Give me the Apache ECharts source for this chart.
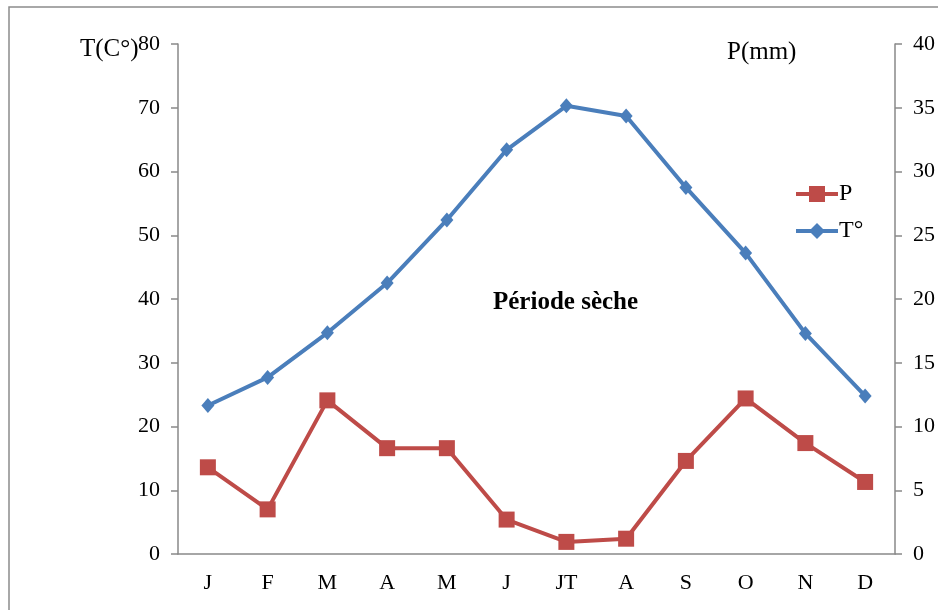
<!DOCTYPE html>
<html>
<head>
<meta charset="utf-8">
<script src="https://cdn.jsdelivr.net/npm/echarts@6/dist/echarts.min.js"></script>
<style>
  html, body { margin: 0; padding: 0; background: #fff; }
  #chart { width: 938px; height: 610px; }
</style>
</head>
<body>
<div id="chart"></div>
<script>
// months (JT = juillet)
const months = ['J', 'F', 'M', 'A', 'M', 'J', 'JT', 'A', 'S', 'O', 'N', 'D'];
// temperature, left axis
const tempValues = [23.3, 27.7, 34.7, 42.5, 52.4, 63.4, 70.3, 68.7, 57.5, 47.2, 34.6, 24.8];
// precipitation, right axis
const rainValues = [6.8, 3.5, 12.05, 8.3, 8.3, 2.7, 0.95, 1.2, 7.3, 12.2, 8.7, 5.65];

const font = 'Liberation Serif';
const axisGray = '#898989';

const myChart = echarts.init(document.getElementById('chart'));

const option = {
  animation: false,
  textStyle: { fontFamily: font },
  grid: { left: 178, right: 43, top: 44, bottom: 56 },
  legend: {
    orient: 'vertical',
    left: 789,
    top: 177,
    itemWidth: 42,
    itemHeight: 20,
    itemGap: 13,
    data: ['P', 'T°'],
    lineStyle: { width: 4 },
    textStyle: { fontFamily: font, fontSize: 24, color: '#000', padding: [0, 0, 0, -4] }
  },
  xAxis: {
    type: 'category',
    data: months,
    axisLine: { lineStyle: { color: axisGray, width: 1.5 } },
    axisTick: { length: 7, lineStyle: { color: axisGray, width: 1.5 } },
    axisLabel: { fontFamily: font, fontSize: 22, color: '#000', margin: 18 }
  },
  yAxis: [
    {
      type: 'value',
      min: 0,
      max: 80,
      interval: 10,
      splitLine: { show: false },
      axisLine: { show: true, lineStyle: { color: axisGray, width: 1.5 } },
      axisTick: { show: true, length: 7, lineStyle: { color: axisGray, width: 1.5 } },
      axisLabel: { fontFamily: font, fontSize: 22, color: '#000', margin: 18 }
    },
    {
      type: 'value',
      min: 0,
      max: 40,
      interval: 5,
      position: 'right',
      splitLine: { show: false },
      axisLine: { show: true, lineStyle: { color: axisGray, width: 1.5 } },
      axisTick: { show: true, length: 7, lineStyle: { color: axisGray, width: 1.5 } },
      axisLabel: { fontFamily: font, fontSize: 22, color: '#000', margin: 18 }
    }
  ],
  series: [
    {
      name: 'P',
      type: 'line',
      yAxisIndex: 1,
      data: rainValues,
      symbol: 'rect',
      symbolSize: 16,
      lineStyle: { color: '#be4b48', width: 4 },
      itemStyle: { color: '#be4b48' },
      z: 3
    },
    {
      name: 'T°',
      type: 'line',
      yAxisIndex: 0,
      data: tempValues,
      symbol: 'diamond',
      symbolSize: [13, 15],
      lineStyle: { color: '#4a7ebb', width: 4 },
      itemStyle: { color: '#4a7ebb' },
      z: 4
    }
  ],
  graphic: [
    {
      type: 'rect',
      shape: { x: 9, y: 7, width: 1000, height: 1000 },
      style: { fill: 'none', stroke: '#8c8c8c', lineWidth: 1.5 },
      silent: true
    },
    {
      type: 'text',
      left: 80,
      top: 37,
      style: { text: 'T(C°)', font: '25px "Liberation Serif"', fill: '#000' }
    },
    {
      type: 'text',
      left: 727,
      top: 40,
      style: { text: 'P(mm)', font: '25px "Liberation Serif"', fill: '#000' }
    },
    {
      type: 'text',
      left: 493,
      top: 290,
      style: { text: 'Période sèche', font: 'bold 25px "Liberation Serif"', fill: '#000' }
    }
  ]
};

myChart.setOption(option);
</script>
</body>
</html>
